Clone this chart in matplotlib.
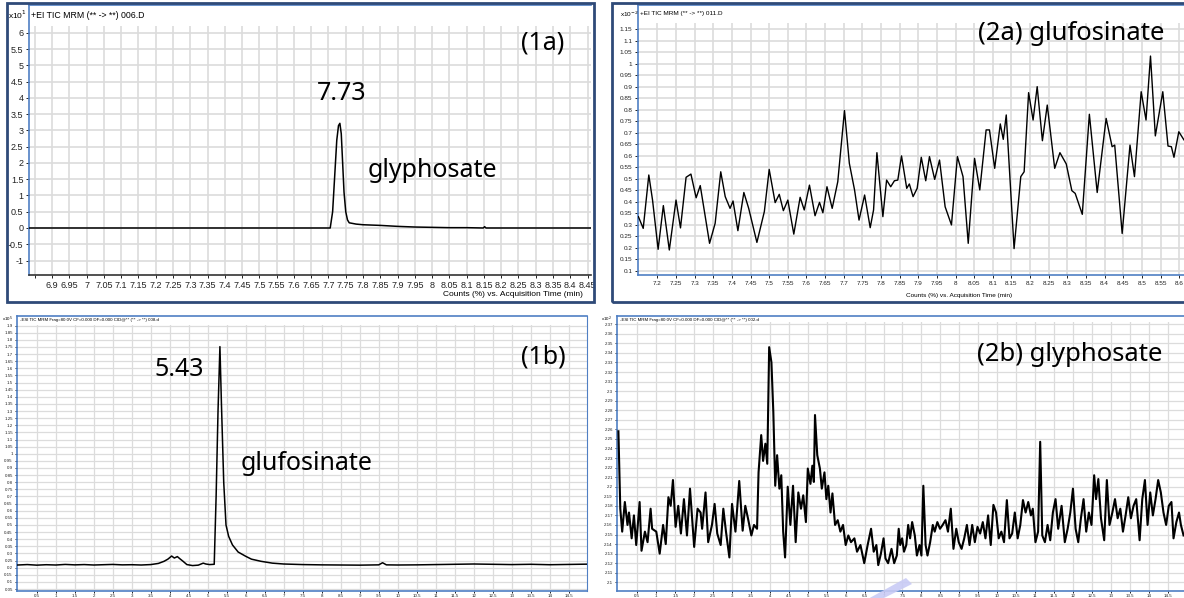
import numpy as np
import matplotlib
matplotlib.use('Agg')
import matplotlib.pyplot as plt
from matplotlib.patches import Rectangle, Polygon

W, H = 1184, 598

# ---- (1a) glyphosate standard, EI TIC MRM 006.D
t_1a = [6.83, 7.705, 7.712, 7.718, 7.724, 7.729, 7.733, 7.737, 7.741, 7.745,
        7.75, 7.755, 7.76, 7.78, 7.80, 7.85, 7.90, 7.95, 8.00, 8.05,
        8.10, 8.148, 8.152, 8.156, 8.46]
v_1a = [0.0, 0.0, 0.5, 1.6, 2.7, 3.15, 3.22, 2.9, 2.0, 1.1,
        0.5, 0.25, 0.16, 0.12, 0.10, 0.08, 0.05, 0.03, 0.02, 0.01,
        0.01, 0.0, 0.04, 0.0, 0.0]

# ---- (1b) glufosinate standard, ESI TIC MRM 008.d
t_1b = [0.0, 0.25, 0.5, 0.75, 1.0, 1.25, 1.5, 1.75, 2.0, 2.25,
        2.5, 2.75, 3.0, 3.25, 3.5, 3.7, 3.85, 3.95, 4.05, 4.12,
        4.2, 4.27, 4.35, 4.45, 4.6, 4.75, 4.88, 4.95, 5.05, 5.17,
        5.22, 5.27, 5.32, 5.36, 5.42, 5.48, 5.55, 5.65, 5.8, 6.0,
        6.15, 6.4, 6.7, 7.0, 7.5, 8.0, 8.5, 9.0, 9.5, 9.6,
        9.7, 10.0, 10.5, 11.0, 11.5, 12.0, 12.5, 13.0, 13.5, 14.0,
        14.5, 14.98]
v_1b = [0.219, 0.222, 0.218, 0.221, 0.219, 0.223, 0.220, 0.222, 0.219, 0.221,
        0.223, 0.220, 0.221, 0.219, 0.222, 0.230, 0.245, 0.260, 0.282, 0.268,
        0.278, 0.262, 0.245, 0.222, 0.215, 0.218, 0.232, 0.226, 0.222, 0.224,
        0.70, 1.30, 1.752, 1.35, 0.80, 0.50, 0.42, 0.36, 0.31, 0.28,
        0.26, 0.245, 0.232, 0.226, 0.222, 0.220, 0.219, 0.218, 0.220, 0.235,
        0.220, 0.219, 0.220, 0.222, 0.224, 0.226, 0.224, 0.222, 0.224, 0.221,
        0.223, 0.225]

# ---- (2a) glufosinate in sample, EI TIC MRM 011.D
t_2a = [7.149, 7.162, 7.177, 7.187, 7.202, 7.216, 7.232, 7.25, 7.262, 7.277,
        7.29, 7.304, 7.315, 7.34, 7.355, 7.37, 7.382, 7.395, 7.403, 7.416,
        7.432, 7.445, 7.467, 7.487, 7.5, 7.516, 7.527, 7.538, 7.55, 7.566,
        7.583, 7.594, 7.608, 7.623, 7.635, 7.644, 7.655, 7.669, 7.684, 7.702,
        7.715, 7.729, 7.741, 7.756, 7.771, 7.78, 7.789, 7.805, 7.815, 7.826,
        7.836, 7.845, 7.855, 7.869, 7.876, 7.886, 7.897, 7.908, 7.92, 7.93,
        7.944, 7.957, 7.972, 7.989, 8.005, 8.02, 8.034, 8.051, 8.065, 8.082,
        8.091, 8.105, 8.12, 8.128, 8.136, 8.157, 8.175, 8.184, 8.196, 8.208,
        8.219, 8.233, 8.246, 8.266, 8.28, 8.297, 8.312, 8.321, 8.34, 8.359,
        8.38, 8.404, 8.42, 8.427, 8.447, 8.468, 8.48, 8.498, 8.511, 8.523,
        8.536, 8.556, 8.57, 8.579, 8.586, 8.599, 8.613, 8.63]
v_2a = [0.335, 0.284, 0.516, 0.407, 0.193, 0.383, 0.19, 0.407, 0.286, 0.506,
        0.52, 0.417, 0.47, 0.219, 0.306, 0.53, 0.422, 0.371, 0.403, 0.274,
        0.44, 0.371, 0.223, 0.357, 0.54, 0.396, 0.432, 0.361, 0.407, 0.259,
        0.419, 0.364, 0.472, 0.339, 0.397, 0.352, 0.465, 0.371, 0.487, 0.796,
        0.567, 0.451, 0.32, 0.429, 0.287, 0.364, 0.613, 0.335, 0.494, 0.465,
        0.491, 0.494, 0.599, 0.458, 0.477, 0.422, 0.458, 0.593, 0.491, 0.596,
        0.497, 0.581, 0.378, 0.299, 0.596, 0.509, 0.219, 0.588, 0.451, 0.712,
        0.712, 0.545, 0.738, 0.671, 0.777, 0.196, 0.509, 0.53, 0.874, 0.755,
        0.9, 0.665, 0.82, 0.545, 0.613, 0.564, 0.448, 0.436, 0.345, 0.78,
        0.44, 0.762, 0.639, 0.646, 0.262, 0.646, 0.509, 0.878, 0.755, 1.033,
        0.686, 0.878, 0.642, 0.639, 0.593, 0.704, 0.668, 0.655]

# ---- (2b) glyphosate in sample, ESI TIC MRM 002.d
t_2b = [0.0, 0.05, 0.1, 0.17, 0.24, 0.28, 0.35, 0.41, 0.47, 0.56,
        0.61, 0.7, 0.77, 0.85, 0.89, 1.0, 1.09, 1.18, 1.25, 1.32,
        1.38, 1.44, 1.51, 1.58, 1.65, 1.73, 1.81, 1.89, 2.0, 2.09,
        2.17, 2.21, 2.3, 2.37, 2.47, 2.54, 2.61, 2.7, 2.77, 2.84,
        2.93, 3.0, 3.09, 3.19, 3.28, 3.35, 3.42, 3.51, 3.58, 3.66,
        3.7, 3.77, 3.82, 3.88, 3.93, 3.98, 4.04, 4.09, 4.14, 4.19,
        4.25, 4.3, 4.35, 4.4, 4.47, 4.54, 4.61, 4.68, 4.75, 4.82,
        4.88, 4.95, 5.0, 5.07, 5.12, 5.16, 5.19, 5.25, 5.32, 5.37,
        5.44, 5.49, 5.54, 5.6, 5.65, 5.72, 5.79, 5.86, 5.93, 6.0,
        6.07, 6.14, 6.23, 6.3, 6.39, 6.49, 6.58, 6.67, 6.74, 6.81,
        6.86, 6.93, 7.0, 7.05, 7.12, 7.21, 7.28, 7.35, 7.4, 7.44,
        7.49, 7.54, 7.6, 7.65, 7.7, 7.755, 7.825, 7.88, 7.95, 8.0,
        8.05, 8.11, 8.16, 8.23, 8.3, 8.35, 8.42, 8.49, 8.56, 8.635,
        8.7, 8.775, 8.845, 8.92, 8.985, 9.06, 9.13, 9.2, 9.27, 9.34,
        9.41, 9.48, 9.55, 9.62, 9.69, 9.76, 9.83, 9.9, 9.97, 10.04,
        10.11, 10.18, 10.255, 10.325, 10.395, 10.465, 10.54, 10.61, 10.68, 10.75,
        10.82, 10.89, 10.94, 11.01, 11.08, 11.135, 11.19, 11.26, 11.33, 11.4,
        11.47, 11.54, 11.61, 11.7, 11.785, 11.86, 11.93, 12.0, 12.07, 12.14,
        12.21, 12.28, 12.35, 12.42, 12.49, 12.56, 12.61, 12.67, 12.74, 12.825,
        12.895, 12.965, 13.04, 13.11, 13.18, 13.25, 13.32, 13.39, 13.46, 13.53,
        13.6, 13.67, 13.76, 13.83, 13.9, 13.97, 14.04, 14.11, 14.18, 14.25,
        14.32, 14.39, 14.46, 14.53, 14.6, 14.655, 14.73, 14.8, 14.85, 14.92]
v_2b = [2.258, 2.177, 2.153, 2.184, 2.16, 2.173, 2.146, 2.17, 2.139, 2.184,
        2.133, 2.153, 2.142, 2.177, 2.156, 2.153, 2.13, 2.16, 2.14, 2.189,
        2.18, 2.207, 2.158, 2.18, 2.151, 2.187, 2.149, 2.198, 2.137, 2.177,
        2.173, 2.156, 2.194, 2.142, 2.16, 2.182, 2.151, 2.139, 2.177, 2.153,
        2.126, 2.182, 2.153, 2.206, 2.154, 2.18, 2.167, 2.149, 2.16, 2.156,
        2.215, 2.254, 2.227, 2.245, 2.224, 2.346, 2.33, 2.278, 2.201, 2.233,
        2.198, 2.212, 2.153, 2.126, 2.2, 2.16, 2.201, 2.142, 2.194, 2.177,
        2.191, 2.163, 2.219, 2.203, 2.222, 2.205, 2.275, 2.233, 2.219, 2.198,
        2.215, 2.187, 2.201, 2.173, 2.193, 2.16, 2.165, 2.153, 2.16, 2.139,
        2.149, 2.142, 2.146, 2.132, 2.139, 2.12, 2.139, 2.156, 2.132, 2.139,
        2.118, 2.13, 2.146, 2.125, 2.12, 2.135, 2.12, 2.128, 2.156, 2.139,
        2.146, 2.132, 2.139, 2.16, 2.146, 2.163, 2.149, 2.128, 2.139, 2.128,
        2.201, 2.139, 2.128, 2.142, 2.16, 2.153, 2.163, 2.156, 2.16, 2.165,
        2.153, 2.177, 2.135, 2.156, 2.142, 2.135, 2.146, 2.16, 2.139, 2.16,
        2.142, 2.158, 2.151, 2.163, 2.146, 2.17, 2.139, 2.181, 2.173, 2.146,
        2.153, 2.142, 2.186, 2.146, 2.151, 2.173, 2.146, 2.16, 2.186, 2.173,
        2.184, 2.17, 2.177, 2.142, 2.153, 2.247, 2.149, 2.142, 2.16, 2.144,
        2.173, 2.187, 2.156, 2.18, 2.142, 2.156, 2.173, 2.198, 2.156, 2.142,
        2.167, 2.187, 2.153, 2.173, 2.16, 2.212, 2.187, 2.208, 2.167, 2.144,
        2.207, 2.16, 2.173, 2.187, 2.167, 2.177, 2.153, 2.17, 2.189, 2.167,
        2.18, 2.187, 2.144, 2.187, 2.207, 2.16, 2.194, 2.17, 2.187, 2.207,
        2.194, 2.173, 2.16, 2.18, 2.184, 2.146, 2.163, 2.173, 2.16, 2.149]

# tick values
xt_1a = np.round(np.arange(6.85, 8.451, 0.05), 2)
yt_1a = np.round(np.arange(-1, 6.01, 0.5), 1)
xt_2a = np.round(np.arange(7.2, 8.601, 0.05), 2)
yt_2a = np.round(np.arange(0.1, 1.151, 0.05), 2)
xt_b = np.round(np.arange(0.5, 14.51, 0.5), 1)
yt_1b = np.round(np.arange(0.05, 1.901, 0.05), 2)
yt_2b = np.round(np.arange(2.1, 2.371, 0.01), 2)

BLUE = '#4F7FC4'
NAVY = '#2F4A78'
GRID = '#DCDCDC'
LBL = ['Noto Sans', 'DejaVu Sans']
SMALL = ['Liberation Sans', 'DejaVu Sans']

fig = plt.figure(figsize=(W / 100, H / 100), dpi=100)


def box(x0, y0, x1, y1):
    return [x0 / W, 1 - y1 / H, (x1 - x0) / W, (y1 - y0) / H]


def ftext(x, y, s, **kw):
    fig.text(x / W, 1 - y / H, s, **kw)


def panel(bx, xlim, ylim, grid_top, xt, yt, fs, glw, bottom_col,
          hide_first=False, tlen=2.5, xpad=1.5):
    ax = fig.add_axes(box(*bx))
    ax.set_xlim(xlim)
    ax.set_ylim(ylim)
    ax.set_xticks(xt)
    xl = ['%g' % v for v in xt]
    if hide_first:
        xl[0] = ''
    ax.set_xticklabels(xl)
    ax.set_yticks(yt)
    ax.set_yticklabels(['%g' % v for v in yt])
    ax.tick_params(labelsize=fs, length=tlen, width=0.7, pad=1.5, colors='#222222')
    ax.tick_params(axis='x', pad=xpad)
    for lab in ax.get_xticklabels() + ax.get_yticklabels():
        lab.set_family(SMALL)
    ax.grid(True, color=GRID, lw=glw)
    ax.set_axisbelow(True)
    ax.axhspan(grid_top, ylim[1], color='white', lw=0, zorder=1)
    ax.spines['right'].set_visible(False)
    for s in ['left', 'top']:
        ax.spines[s].set_color(BLUE)
        ax.spines[s].set_linewidth(1.2)
    ax.spines['bottom'].set_color(bottom_col)
    ax.spines['bottom'].set_linewidth(1.2)
    return ax


# (1a)
ax1 = panel((29, 5, 591, 275), (6.833, 8.46), (-1.446, 6.86), 6.215,
            xt_1a, yt_1a, 6.5, 1.2, '#333333', hide_first=True)
ax1.plot(t_1a, v_1a, color='black', lw=1.1, zorder=3)
ftext(31, 15, '+EI TIC MRM (** -> **) 006.D', fontsize=6.3, va='center', family=SMALL)
ftext(8, 15, r'x10$^{1}$', fontsize=6, va='center', family=SMALL)
ftext(583, 295, 'Counts (%) vs. Acquisition Time (min)', fontsize=6, ha='right',
      va='center', family=SMALL)
ftext(317, 100, '7.73', fontsize=18, family=LBL)
ftext(368, 177, 'glyphosate', fontsize=18, family=LBL)
ftext(521, 49, '(1a)', fontsize=18, family=LBL)

# (2a)
ax2 = panel((638, 5, 1190, 275), (7.148, 8.629), (0.0813, 1.255), 1.177,
            xt_2a, yt_2a, 4.6, 1.2, BLUE)
ax2.plot(t_2a, v_2a, color='black', lw=1.0, zorder=3)
ftext(640, 14, '+EI TIC MRM (** -> **) 011.D', fontsize=4.6, va='center', family=SMALL)
ftext(620, 14, r'x10$^{-2}$', fontsize=4.6, va='center', family=SMALL)
ftext(959, 295, 'Counts (%) vs. Acquisition Time (min)', fontsize=4.6, ha='center',
      va='center', family=SMALL)
ftext(978, 40, '(2a) glufosinate', fontsize=18.5, family=LBL)

# (1b)
ax3 = panel((17, 316, 587, 591), (-0.02, 14.98), (0.0365, 1.967), 1.903,
            xt_b, yt_1b, 3.2, 0.9, BLUE, tlen=1.5, xpad=0.5)
ax3.spines['right'].set_visible(True)
ax3.spines['right'].set_color(BLUE)
ax3.plot(t_1b, v_1b, color='black', lw=1.1, zorder=3)
ftext(20, 320, '-ESI TIC MRM Frag=80.0V CF=0.000 DF=0.000 CID@** (** -> **) 008.d',
      fontsize=3.2, va='center', family=SMALL)
ftext(2, 319, r'x10$^{5}$', fontsize=3.2, va='center', family=SMALL)
ftext(154, 376, '5.43', fontsize=18, family=LBL)
ftext(241, 470, 'glufosinate', fontsize=18, family=LBL)
ftext(521, 363, '(1b)', fontsize=18, family=LBL)

# (2b)
ax4 = panel((617, 316, 1190, 591), (-0.037, 15.09), (2.0909, 2.3786), 2.372,
            xt_b, yt_2b, 3.2, 0.9, BLUE, tlen=1.5, xpad=0.5)
ax4.plot(t_2b, v_2b, color='black', lw=1.5, zorder=3)
ftext(620, 320, '-ESI TIC MRM Frag=80.0V CF=0.000 DF=0.000 CID@** (** -> **) 002.d',
      fontsize=3.2, va='center', family=SMALL)
ftext(601, 319, r'x10$^{2}$', fontsize=3.2, va='center', family=SMALL)
ftext(977, 361, '(2b) glyphosate', fontsize=18.5, family=LBL)

# outer frames of the top row
for x0, y0, x1, y1 in [(7, 3, 594, 302), (612, 3, 1192, 302)]:
    fig.add_artist(Rectangle((x0 / W, 1 - y1 / H), (x1 - x0) / W, (y1 - y0) / H,
                             transform=fig.transFigure, fill=False,
                             ec=NAVY, lw=2))

# faint lavender pen stroke near the bottom of (2b)
stroke = [(906, 578), (912, 584), (880, 600), (866, 600)]
fig.add_artist(Polygon([(x / W, 1 - y / H) for x, y in stroke], closed=True,
                       transform=fig.transFigure, fc='#C9CBF5', ec='none', alpha=0.9))

fig.savefig('out.png', dpi=100)
